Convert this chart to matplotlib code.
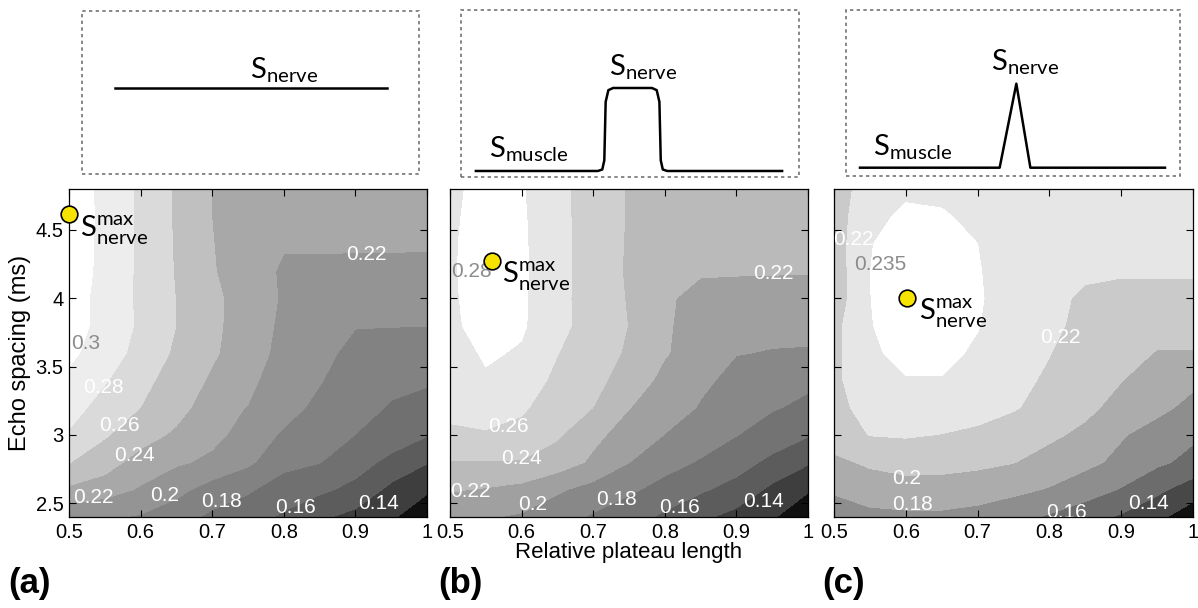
import matplotlib.pyplot as plt
from matplotlib.patches import Rectangle

plt.rcParams['mathtext.fontset'] = 'custom'
plt.rcParams['mathtext.rm'] = 'Lato'

# grid of the simulation: relative plateau length (x) and echo spacing in ms (y)
plateau = [0.5, 0.55, 0.6, 0.65, 0.7, 0.75, 0.8, 0.85, 0.9, 0.95, 1.0]
echo = [2.4, 2.6, 2.8, 3.0, 3.2, 3.4, 3.6, 3.8, 4.0, 4.2, 4.4, 4.6, 4.8]

# nerve signal, rows follow echo (bottom to top), columns follow plateau
snr_a = [
    [0.205, 0.2025, 0.198, 0.188, 0.176, 0.168, 0.157, 0.143, 0.134, 0.122, 0.110],
    [0.2364, 0.228, 0.218, 0.206, 0.191, 0.1825, 0.170, 0.164, 0.154, 0.135, 0.122],
    [0.2605, 0.250, 0.230, 0.2225, 0.2163, 0.2035, 0.186, 0.1805, 0.169, 0.154, 0.141],
    [0.278, 0.2616, 0.250, 0.2357, 0.2245, 0.2133, 0.1967, 0.190, 0.1798, 0.172, 0.161],
    [0.2875, 0.2725, 0.2598, 0.2485, 0.2273, 0.2192, 0.2085, 0.1943, 0.186, 0.1785, 0.174],
    [0.298, 0.2816, 0.266, 0.251, 0.2373, 0.2255, 0.2072, 0.2015, 0.1865, 0.184, 0.182],
    [0.302, 0.2953, 0.2698, 0.2576, 0.2425, 0.230, 0.2133, 0.2035, 0.1965, 0.193, 0.191],
    [0.304, 0.297, 0.2758, 0.2598, 0.2445, 0.2295, 0.2163, 0.207, 0.2005, 0.2004, 0.2003],
    [0.308, 0.294, 0.276, 0.2595, 0.2435, 0.2325, 0.2175, 0.212, 0.209, 0.207, 0.206],
    [0.310, 0.295, 0.276, 0.2585, 0.2415, 0.2285, 0.2175, 0.2155, 0.215, 0.2145, 0.214],
    [0.311, 0.295, 0.276, 0.258, 0.2405, 0.231, 0.2215, 0.2225, 0.2225, 0.2225, 0.2225],
    [0.312, 0.295, 0.276, 0.2575, 0.2398, 0.233, 0.228, 0.227, 0.226, 0.226, 0.225],
    [0.311, 0.295, 0.276, 0.2575, 0.2395, 0.234, 0.230, 0.228, 0.227, 0.226, 0.225],
]
snr_b = [
    [0.2055, 0.2015, 0.1975, 0.1885, 0.1775, 0.1675, 0.1565, 0.144, 0.1335, 0.1215, 0.109],
    [0.2215, 0.2185, 0.214, 0.2025, 0.193, 0.1835, 0.1725, 0.1625, 0.153, 0.1355, 0.1215],
    [0.2385, 0.239, 0.2385, 0.2305, 0.2165, 0.2002, 0.1875, 0.178, 0.168, 0.155, 0.142],
    [0.2575, 0.258, 0.2545, 0.2425, 0.2245, 0.212, 0.1995, 0.1905, 0.1805, 0.171, 0.1615],
    [0.2635, 0.2685, 0.2625, 0.2505, 0.2398, 0.2205, 0.2095, 0.1985, 0.1895, 0.1815, 0.176],
    [0.2665, 0.2775, 0.2705, 0.2555, 0.2455, 0.2315, 0.2145, 0.2035, 0.195, 0.187, 0.1835],
    [0.271, 0.2825, 0.278, 0.2605, 0.2485, 0.2375, 0.2215, 0.211, 0.2005, 0.1993, 0.199],
    [0.2755, 0.2885, 0.2825, 0.2655, 0.2515, 0.2395, 0.2225, 0.2115, 0.2045, 0.2035, 0.203],
    [0.2765, 0.290, 0.283, 0.2655, 0.251, 0.2385, 0.2235, 0.2125, 0.209, 0.2075, 0.207],
    [0.277, 0.291, 0.2835, 0.266, 0.251, 0.2375, 0.2285, 0.2225, 0.2225, 0.2222, 0.222],
    [0.277, 0.290, 0.283, 0.266, 0.251, 0.238, 0.233, 0.2265, 0.2255, 0.225, 0.2245],
    [0.276, 0.289, 0.2825, 0.2655, 0.251, 0.2385, 0.234, 0.231, 0.229, 0.228, 0.227],
    [0.275, 0.2875, 0.2815, 0.2655, 0.251, 0.2385, 0.234, 0.231, 0.229, 0.228, 0.227],
]
snr_c = [
    [0.1735, 0.1755, 0.1765, 0.1765, 0.1735, 0.1665, 0.1575, 0.1475, 0.1375, 0.1245, 0.1085],
    [0.1815, 0.188, 0.1905, 0.1905, 0.1885, 0.1845, 0.1785, 0.1695, 0.1585, 0.1445, 0.1295],
    [0.195, 0.2035, 0.2085, 0.2075, 0.2045, 0.2005, 0.1925, 0.1845, 0.1755, 0.1635, 0.1545],
    [0.2115, 0.2205, 0.2215, 0.2195, 0.2165, 0.2105, 0.2035, 0.1955, 0.1815, 0.1725, 0.163],
    [0.2145, 0.2265, 0.2295, 0.2295, 0.2265, 0.2215, 0.2135, 0.2045, 0.1935, 0.1845, 0.175],
    [0.2165, 0.2305, 0.2345, 0.2345, 0.231, 0.2245, 0.2175, 0.2085, 0.2005, 0.1915, 0.1835],
    [0.216, 0.2335, 0.2375, 0.2375, 0.2335, 0.2265, 0.2205, 0.211, 0.2035, 0.1995, 0.1996],
    [0.2155, 0.2345, 0.2395, 0.2395, 0.2355, 0.2285, 0.2235, 0.2155, 0.2055, 0.2035, 0.2025],
    [0.211, 0.2348, 0.241, 0.2405, 0.2362, 0.2295, 0.2255, 0.2165, 0.210, 0.210, 0.210],
    [0.2115, 0.2349, 0.2405, 0.2405, 0.2357, 0.2295, 0.2265, 0.2235, 0.2235, 0.2235, 0.2235],
    [0.212, 0.2345, 0.2395, 0.2395, 0.235, 0.2285, 0.2255, 0.2245, 0.2235, 0.223, 0.2225],
    [0.2125, 0.231, 0.2375, 0.2365, 0.2315, 0.2275, 0.2255, 0.2245, 0.224, 0.2235, 0.223],
    [0.212, 0.2275, 0.2325, 0.2315, 0.2285, 0.227, 0.2255, 0.225, 0.2245, 0.224, 0.2235],
]

levels_a = [0, 0.12, 0.14, 0.16, 0.18, 0.20, 0.22, 0.24, 0.26, 0.28, 0.30, 1]
levels_b = [0, 0.12, 0.14, 0.16, 0.18, 0.20, 0.22, 0.24, 0.26, 0.28, 1]
levels_c = [0, 0.12, 0.14, 0.16, 0.18, 0.20, 0.22, 0.235, 1]
gray_a = [16, 62, 92, 112, 130, 148, 168, 192, 218, 237, 255]
gray_b = [16, 62, 92, 115, 136, 160, 186, 207, 230, 255]
gray_c = [16, 72, 108, 142, 172, 202, 230, 255]

# location of the maximum nerve signal
max_a = (0.5, 4.62)
max_b = (0.558, 4.27)
max_c = (0.602, 4.0)

# contour labels: text, x, y, colour
labels_a = [('0.3', 0.524, 3.67, '0.55'), ('0.28', 0.548, 3.35, 'w'), ('0.26', 0.571, 3.07, 'w'),
            ('0.24', 0.592, 2.85, 'w'), ('0.22', 0.534, 2.54, 'w'), ('0.2', 0.634, 2.56, 'w'),
            ('0.18', 0.713, 2.51, 'w'), ('0.16', 0.816, 2.47, 'w'), ('0.14', 0.932, 2.50, 'w'),
            ('0.22', 0.916, 4.32, 'w')]
labels_b = [('0.28', 0.530, 4.195, '0.55'), ('0.22', 0.952, 4.18, 'w'), ('0.26', 0.581, 3.06, 'w'),
            ('0.24', 0.600, 2.83, 'w'), ('0.22', 0.528, 2.586, 'w'), ('0.2', 0.616, 2.49, 'w'),
            ('0.18', 0.733, 2.525, 'w'), ('0.16', 0.821, 2.466, 'w'), ('0.14', 0.938, 2.51, 'w')]
labels_c = [('0.22', 0.527, 4.43, 'w'), ('0.235', 0.565, 4.25, '0.55'), ('0.22', 0.815, 3.71, 'w'),
            ('0.2', 0.601, 2.68, 'w'), ('0.18', 0.610, 2.49, 'w'), ('0.16', 0.824, 2.43, 'w'),
            ('0.14', 0.938, 2.50, 'w')]

# schematic signal profiles along the fibre (box coordinates)
prof_a_x = [0.098, 0.905]
prof_a_y = [0.53, 0.53]
prof_b_x = [0.044, 0.405, 0.418, 0.424, 0.428, 0.436, 0.45, 0.565, 0.579, 0.587, 0.591, 0.597, 0.61, 0.95]
prof_b_y = [0.036, 0.036, 0.045, 0.1, 0.45, 0.52, 0.533, 0.533, 0.52, 0.45, 0.1, 0.045, 0.036, 0.036]
prof_c_x = [0.042, 0.46, 0.51, 0.552, 0.955]
prof_c_y = [0.05, 0.05, 0.556, 0.05, 0.05]

narrow = ['Liberation Sans Narrow', 'Liberation Sans', 'DejaVu Sans']

fig = plt.figure(figsize=(11.98, 6.08), dpi=100)

W, H = 1198, 608


def px_axes(l, t, r, b):
    return fig.add_axes([l / W, 1 - b / H, (r - l) / W, (b - t) / H])


panels = [
    (snr_a, levels_a, gray_a, max_a, labels_a, (69, 189, 427, 517), (0.515, 4.5)),
    (snr_b, levels_b, gray_b, max_b, labels_b, (450, 189, 808, 517), (0.573, 4.16)),
    (snr_c, levels_c, gray_c, max_c, labels_c, (834, 189, 1193, 517), (0.618, 3.89)),
]

axes = []
for i, (z, lev, g, mx, labs, box, spos) in enumerate(panels):
    ax = px_axes(*box)
    ax.contourf(plateau, echo, z, levels=lev, colors=[str(v / 255) for v in g])
    for s, x, y, c in labs:
        ax.text(x, y, s, color=c, fontsize=15, family='Liberation Sans',
                ha='center', va='center', clip_on=True)
    ax.plot(*mx, 'o', ms=12, mfc='#f7e300', mec='k', mew=1.2, zorder=5, clip_on=False)
    ax.text(spos[0], spos[1], r'$\mathrm{S}^{\mathrm{max}}_{\mathrm{nerve}}$', fontsize=21,
            ha='left', va='center', color='k', zorder=6)
    ax.set_xlim(0.5, 1.0)
    ax.set_ylim(2.4, 4.8)
    ax.set_xticks([0.5, 0.6, 0.7, 0.8, 0.9, 1.0])
    ax.set_xticklabels(['0.5', '0.6', '0.7', '0.8', '0.9', '1'], family=narrow)
    ax.set_yticks([2.5, 3, 3.5, 4, 4.5])
    ax.tick_params(direction='in', top=True, right=True, length=5, width=0.8,
                   labelsize=14.5, pad=4)
    if i == 0:
        ax.set_yticklabels(['2.5', '3', '3.5', '4', '4.5'], family=narrow)
        ax.set_ylabel('Echo spacing (ms)', fontsize=17, family=narrow, labelpad=3)
    else:
        ax.tick_params(labelleft=False)
    for sp in ax.spines.values():
        sp.set_linewidth(0.9)
    axes.append(ax)

axes[1].set_xlabel('Relative plateau length', fontsize=16, family=narrow, labelpad=0)

# schematic boxes above the maps
sketches = [
    ((82, 11, 419, 174), prof_a_x, prof_a_y, [(0.5, 0.59, 'nerve')]),
    ((461, 10, 799, 177), prof_b_x, prof_b_y, [(0.438, 0.61, 'nerve'), (0.083, 0.12, 'muscle')]),
    ((846, 10, 1180, 176), prof_c_x, prof_c_y, [(0.434, 0.64, 'nerve'), (0.081, 0.127, 'muscle')]),
]
for box, px, py, texts in sketches:
    sk = px_axes(*box)
    sk.set_xlim(0, 1)
    sk.set_ylim(0, 1)
    sk.axis('off')
    sk.add_patch(Rectangle((0, 0), 1, 1, transform=sk.transAxes, fill=False,
                           ec='0.45', lw=1.2, ls=(0, (2, 2)), clip_on=False))
    sk.plot(px, py, color='k', lw=1.8, solid_joinstyle='round')
    for x, y, sub in texts:
        sk.text(x, y, r'$\mathrm{S}_{\mathrm{%s}}$' % sub, fontsize=21, ha='left',
                va='baseline', color='k')

for x, s in [(8, '(a)'), (438, '(b)'), (822, '(c)')]:
    fig.text(x / W, 1 - 583 / H, s, fontsize=25, fontweight='bold', family=narrow,
             ha='left', va='center')

fig.savefig('out.png', dpi=100)
